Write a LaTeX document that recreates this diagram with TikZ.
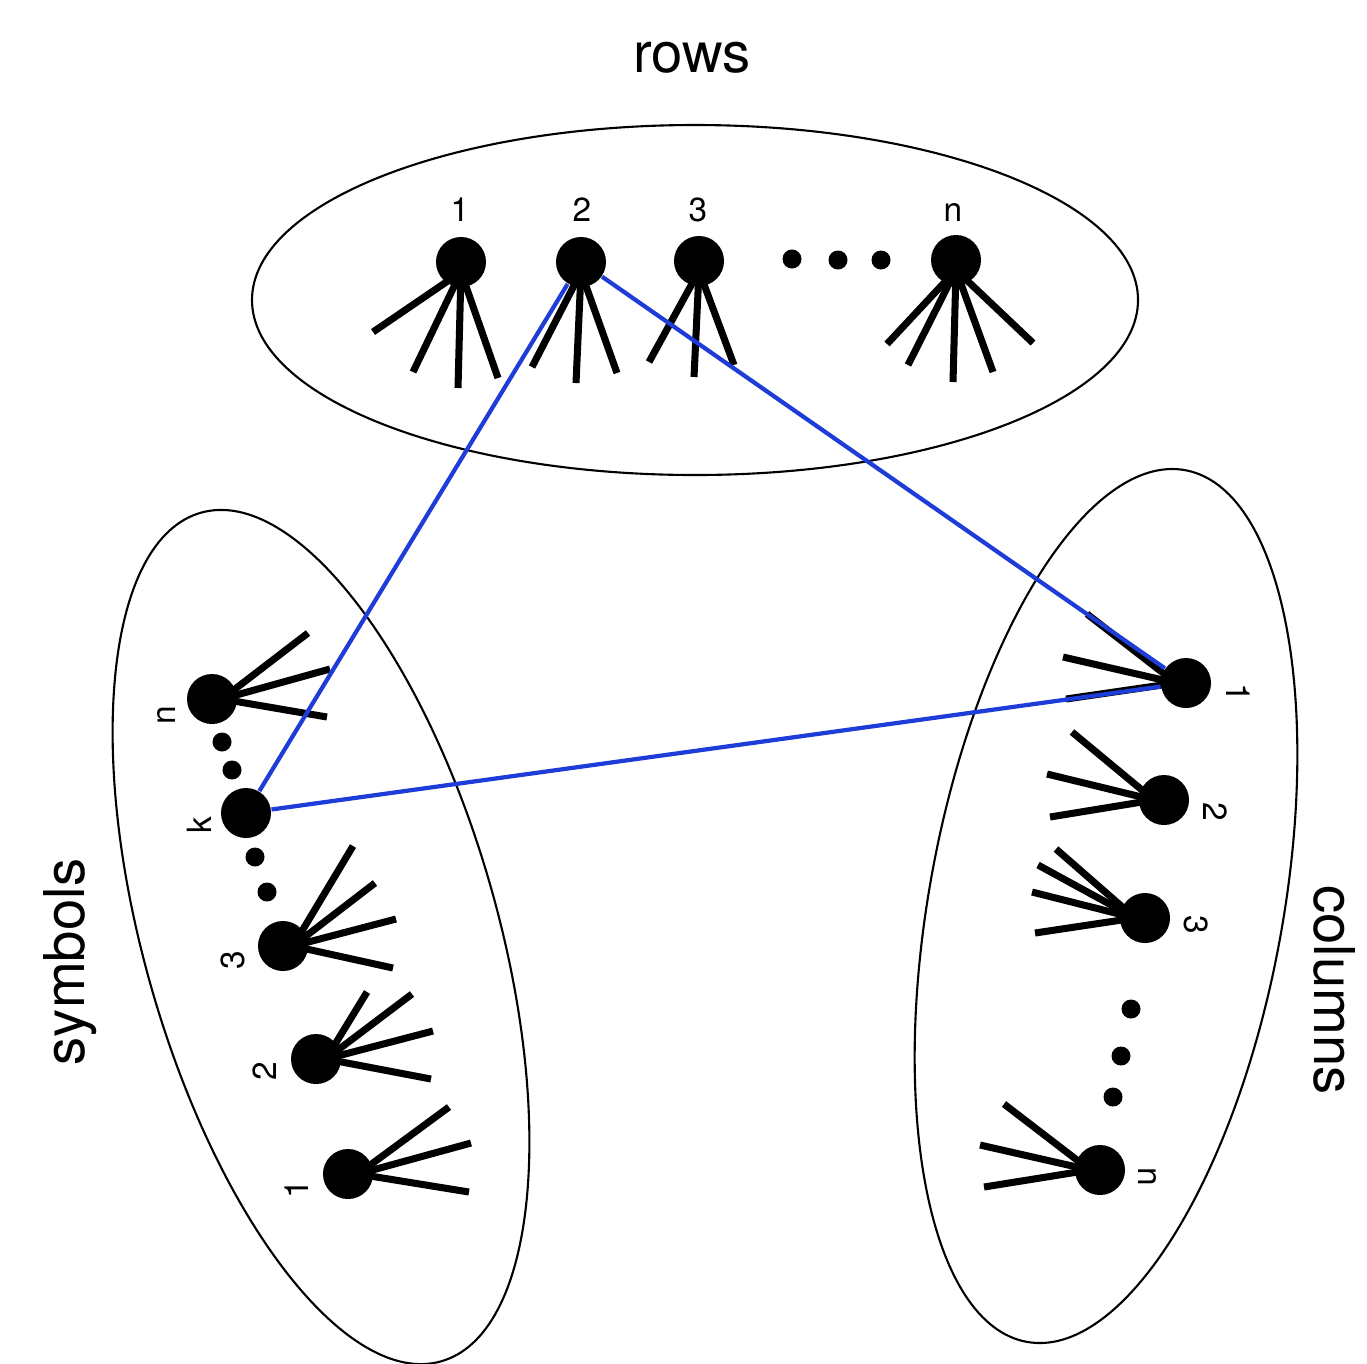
\documentclass[tikz,border=0pt]{standalone}
\usepackage{fontspec}
\setmainfont{TeX Gyre Heros}
\pgfdeclarelayer{background}
\pgfsetlayers{background,main}
\definecolor{linkblue}{RGB}{30,60,215}
\begin{document}
\begin{tikzpicture}[x=0.01cm,y=-0.01cm,
  vtx/.style={circle,fill=black,inner sep=0pt,minimum size=0.5cm},
  dotv/.style={circle,fill=black,inner sep=0pt,minimum size=0.19cm},
  stub/.style={line width=2pt},
  link/.style={line width=1.2pt,draw=linkblue},
  grp/.style={line width=0.6pt},
  num/.style={font=\fontsize{9.5}{11}\selectfont,inner sep=0pt},
  heading/.style={font=\fontsize{16}{19}\selectfont,inner sep=0pt}]
\useasboundingbox (0,0) rectangle (1367,1363);
\clip (0,0) rectangle (1367,1363);

% group outlines
\draw[grp] (695,300) ellipse [x radius=443, y radius=175];
\draw[grp,rotate around={15.8:(321,937)}] (321,937) ellipse [x radius=177, y radius=441];
\draw[grp,rotate around={-10.3:(1106,906)}] (1106,906) ellipse [x radius=177, y radius=443];

% headings
\node[heading] (hrows) at (692,58) {rows};
\node[heading,rotate=90] (hsym) at (70,962) {symbols};
\node[heading,rotate=-90] (hcol) at (1335,990) {columns};

% rows
\node[vtx] (t1) at (461,262) {};
\node[vtx] (t2) at (581,262) {};
\node[vtx] (t3) at (699,261) {};
\node[vtx] (tn) at (956,260) {};
\node[dotv] (td1) at (792,259) {};
\node[dotv] (td2) at (838,260) {};
\node[dotv] (td3) at (881,260) {};
\node[num] (lt1) at (460,210) {1};
\node[num] (lt2) at (582,210) {2};
\node[num] (lt3) at (698,210) {3};
\node[num] (ltn) at (953,212) {n};

% symbols
\node[vtx] (sn) at (212,699) {};
\node[vtx] (sk) at (246,813) {};
\node[vtx] (s3) at (283,946) {};
\node[vtx] (s2) at (316,1059) {};
\node[vtx] (s1) at (348,1174) {};
\node[dotv] (sd1) at (222,742) {};
\node[dotv] (sd2) at (232,770) {};
\node[dotv] (sd3) at (255,857) {};
\node[dotv] (sd4) at (267,892) {};
\node[num,rotate=90] (lsn) at (166,715) {n};
\node[num,rotate=90] (lsk) at (199,825) {k};
\node[num,rotate=90] (ls3) at (233,960) {3};
\node[num,rotate=90] (ls2) at (265,1071) {2};
\node[num,rotate=90] (ls1) at (297,1189) {1};

% columns
\node[vtx] (c1) at (1186,683) {};
\node[vtx] (c2) at (1164,800) {};
\node[vtx] (c3) at (1145,918) {};
\node[vtx] (cn) at (1100,1170) {};
\node[dotv] (cd1) at (1131,1009) {};
\node[dotv] (cd2) at (1121,1056) {};
\node[dotv] (cd3) at (1113,1097) {};
\node[num,rotate=-90] (lc1) at (1238,693) {1};
\node[num,rotate=-90] (lc2) at (1215,812) {2};
\node[num,rotate=-90] (lc3) at (1196,925) {3};
\node[num,rotate=-90] (lcn) at (1147,1177) {n};

\begin{pgfonlayer}{background}
% row stubs
\foreach \x/\y in {373/332,413/372,458/388,498/378}
  \draw[stub] ([yshift=-1mm]t1.center) -- (\x,\y);
\foreach \x/\y in {532/367,576/383,617/373}
  \draw[stub] ([yshift=-1mm]t2.center) -- (\x,\y);
\foreach \x/\y in {649/362,694/377,734/365}
  \draw[stub] ([yshift=-1mm]t3.center) -- (\x,\y);
\foreach \x/\y in {887/344,908/365,953/382,993/372,1033/343}
  \draw[stub] ([yshift=-1mm]tn.center) -- (\x,\y);
% symbol stubs
\foreach \x/\y in {308/633,330/669,327/717}
  \draw[stub] ([xshift=1mm]sn.center) -- (\x,\y);
\foreach \x/\y in {353/846,375/883,396/919,393/968}
  \draw[stub] ([xshift=1mm]s3.center) -- (\x,\y);
\foreach \x/\y in {367/992,412/994,433/1031,431/1079}
  \draw[stub] ([xshift=1mm]s2.center) -- (\x,\y);
\foreach \x/\y in {449/1107,471/1143,469/1192}
  \draw[stub] ([xshift=1mm]s1.center) -- (\x,\y);
% column stubs
\foreach \x/\y in {1087/614,1063/657,1066/699}
  \draw[stub] ([xshift=-1mm]c1.center) -- (\x,\y);
\foreach \x/\y in {1072/732,1047/774,1050/817}
  \draw[stub] ([xshift=-1mm]c2.center) -- (\x,\y);
\foreach \x/\y in {1056/849,1038/865,1032/892,1035/933}
  \draw[stub] ([xshift=-1mm]c3.center) -- (\x,\y);
\foreach \x/\y in {1004/1104,980/1145,984/1187}
  \draw[stub] ([xshift=-1mm]cn.center) -- (\x,\y);
\end{pgfonlayer}

% links
\draw[link] (t2) -- (sk);
\draw[link] (t2) -- (c1);
\draw[link] (sk) -- (c1);
\end{tikzpicture}
\end{document}
